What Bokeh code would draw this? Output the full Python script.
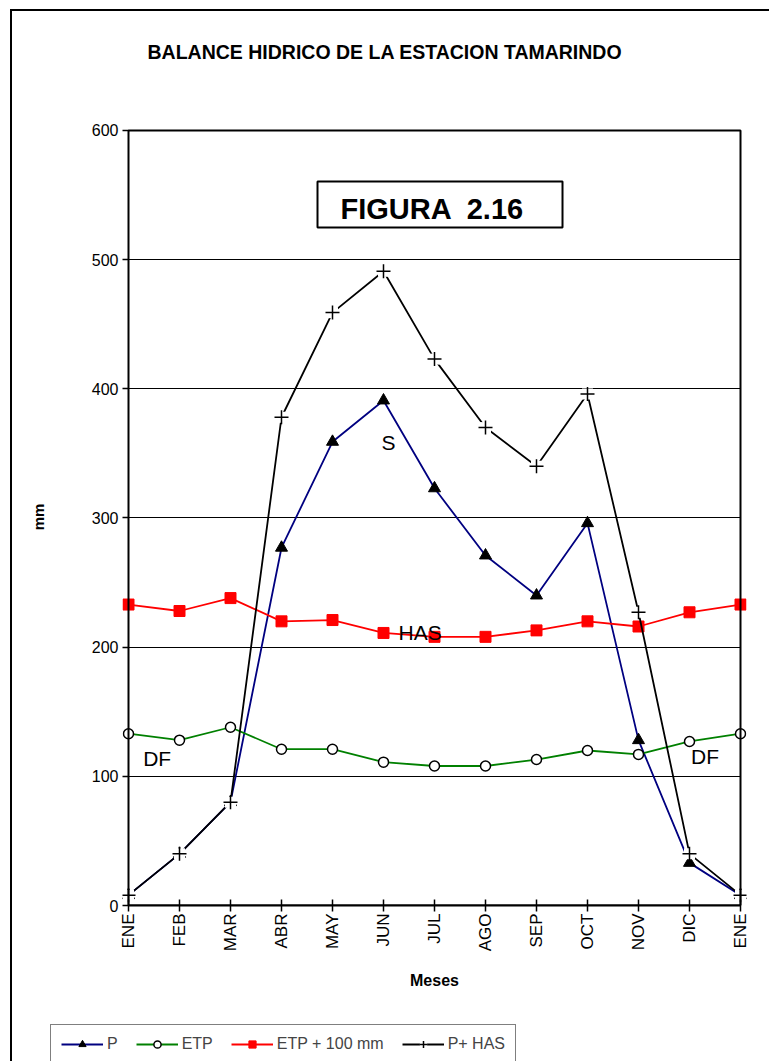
import math
from bokeh.plotting import figure
from bokeh.layouts import column
from bokeh.models import (Label, BoxAnnotation, PolyAnnotation, Legend, LegendItem,
                          FixedTicker, Range1d)
from bokeh.embed import file_html
from bokeh.resources import INLINE

# ---------------- data ----------------
months = ["ENE", "FEB", "MAR", "ABR", "MAY", "JUN", "JUL", "AGO", "SEP", "OCT", "NOV", "DIC", "ENE"]
p_vals = [8, 40, 80, 277, 359, 391, 323, 271, 240, 296, 128, 33, 8]
etp_vals = [133, 128, 138, 121, 121, 111, 108, 108, 113, 120, 117, 127, 133]
etp100_vals = [233, 228, 238, 220, 221, 211, 208, 208, 213, 220, 216, 227, 233]
phas_vals = [8, 40, 80, 378, 459, 491, 423, 370, 340, 396, 227, 40, 8]
y_ticks = [0, 100, 200, 300, 400, 500, 600]
series_names = ["P", "ETP", "ETP + 100 mm", "P+ HAS"]
title_text = "BALANCE HIDRICO DE LA ESTACION TAMARINDO"
x_pos = list(range(len(months)))

FONT = "Liberation Sans"
BLUE, GREEN, RED = "#000080", "#008000", "#ff0000"
LW = 1.8


def strip(height, margin=None):
    f = figure(width=757, height=height, output_backend="svg", toolbar_location=None,
               x_range=Range1d(0, 1), y_range=Range1d(0, 1),
               x_axis_type=None, y_axis_type=None,
               min_border_left=110, min_border_right=23, min_border_top=0, min_border_bottom=0)
    f.outline_line_color = None
    f.xgrid.grid_line_color = None
    f.ygrid.grid_line_color = None
    f.background_fill_alpha = 0
    f.border_fill_alpha = 0
    if margin is not None:
        f.margin = margin
    return f


# ---------------- title strip ----------------
pt = strip(80)
pt.add_layout(Label(x=0.04006, y=0.5, text=title_text, text_font=FONT,
                    text_font_size="19.5px", text_font_style="bold", text_color="black",
                    text_align="left", text_baseline="alphabetic"))

# ---------------- main chart ----------------
xpad = 6 / 51
ypad = 2 / 1.2917
p = figure(width=757, height=929, output_backend="svg", toolbar_location=None,
           x_range=Range1d(-xpad, len(months) - 1 + xpad), y_range=Range1d(0, 600 + ypad),
           min_border_left=110, min_border_right=23, min_border_top=37, min_border_bottom=115)
p.outline_line_color = None
p.background_fill_color = "white"
p.border_fill_alpha = 0

# x axis
xa = p.xaxis[0]
xa.ticker = FixedTicker(ticks=x_pos)
xa.major_label_overrides = {i: m for i, m in enumerate(months)}
xa.bounds = (0, len(months) - 1)
xa.axis_line_width = 2
xa.axis_line_color = "black"
xa.major_tick_in = 6
xa.major_tick_out = 6
xa.major_tick_line_width = 1.5
xa.major_tick_line_color = "black"
xa.minor_tick_line_color = None
xa.major_label_orientation = math.pi / 2
xa.major_label_standoff = 2
xa.major_label_text_font = FONT
xa.major_label_text_font_size = "17px"
xa.major_label_text_color = "black"
xa.axis_label = "Meses"
xa.axis_label_text_font = FONT
xa.axis_label_text_font_size = "16px"
xa.axis_label_text_font_style = "bold"
xa.axis_label_text_color = "black"
xa.axis_label_standoff = 18

# y axis
ya = p.yaxis[0]
ya.ticker = FixedTicker(ticks=y_ticks)
ya.axis_line_color = None
ya.major_tick_in = 6
ya.major_tick_out = 0
ya.major_tick_line_width = 1.5
ya.major_tick_line_color = "black"
ya.minor_tick_line_color = None
ya.major_label_standoff = 4
ya.major_label_text_font = FONT
ya.major_label_text_font_size = "16px"
ya.major_label_text_color = "black"
ya.axis_label = "mm"
ya.axis_label_text_font = FONT
ya.axis_label_text_font_size = "15px"
ya.axis_label_text_font_style = "bold"
ya.axis_label_text_color = "black"
ya.axis_label_standoff = 42

p.xgrid.grid_line_color = None
p.ygrid.ticker = FixedTicker(ticks=y_ticks)
p.ygrid.grid_line_color = "black"
p.ygrid.grid_line_width = 1
p.ygrid.cross_bounds = (0, len(months) - 1)

# plot-area border
p.add_layout(PolyAnnotation(xs=[0, 0, 12, 12], ys=[0, 600, 600, 0],
                            fill_alpha=0, line_color="black", line_alpha=1, line_width=2))


def add_series(fig):
    r = {}
    r["pl"] = fig.line(x_pos, p_vals, line_color=BLUE, line_width=LW)
    r["pm"] = fig.scatter(x_pos, p_vals, marker="triangle", size=12, fill_color="black",
                          line_color="black")
    r["el"] = fig.line(x_pos, etp_vals, line_color=GREEN, line_width=LW)
    r["em"] = fig.scatter(x_pos, etp_vals, marker="circle", size=10, fill_color="white",
                          line_color="black", line_width=1.5)
    r["rl"] = fig.line(x_pos, etp100_vals, line_color=RED, line_width=LW)
    r["rm"] = fig.scatter(x_pos, etp100_vals, marker="square", size=11, fill_color=RED,
                          line_color=RED)
    r["hl"] = fig.line(x_pos, phas_vals, line_color="black", line_width=LW)
    r["hw"] = fig.scatter(x_pos, phas_vals, marker="square", size=11, fill_color="white",
                          line_color=None)
    r["hm"] = fig.scatter(x_pos, phas_vals, marker="cross", size=14, line_color="black",
                          line_width=1.5)
    return r


add_series(p)


def lab(x, y, text, size, bold=False):
    p.add_layout(Label(x=x, y=y, text=text, text_font=FONT, text_font_size=size,
                       text_font_style="bold" if bold else "normal", text_align="left",
                       text_baseline="alphabetic", text_color="black"))


p.add_layout(BoxAnnotation(left=3.706, right=8.51, top=560.5, bottom=524.9,
                           fill_color="white", fill_alpha=1, line_color="black",
                           line_alpha=1, line_width=2))
lab(4.157, 539.0, "FIGURA \u00a02.16", "29px", bold=True)
lab(4.96, 358.5, "S", "21px")
lab(5.294, 211.4, "HAS", "21px")
lab(0.288, 113.6, "DF", "21px")
lab(11.03, 115.4, "DF", "21px")

# ---------------- legend strip ----------------
# same series drawn in a strip whose ranges keep them out of view; only the legend shows
pl = strip(41, margin=(0, 0, 0, -72))
pl.x_range = Range1d(1000, 1001)
pl.y_range = Range1d(1000, 1001)
lr = add_series(pl)

legend = Legend(items=[
    LegendItem(label=series_names[0], renderers=[lr["pl"], lr["pm"]]),
    LegendItem(label=series_names[1], renderers=[lr["el"], lr["em"]]),
    LegendItem(label=series_names[2], renderers=[lr["rl"], lr["rm"]]),
    LegendItem(label=series_names[3], renderers=[lr["hl"], lr["hw"], lr["hm"]]),
], orientation="horizontal", location=(0, -3))
legend.border_line_color = "black"
legend.border_line_width = 1.5
legend.background_fill_color = "white"
legend.background_fill_alpha = 1
legend.label_text_font = FONT
legend.label_text_font_size = "16px"
legend.glyph_width = 42
legend.glyph_height = 18
legend.label_height = 18
legend.label_width = 8
legend.label_standoff = 4
legend.spacing = 18
legend.padding = 10
legend.margin = 0
pl.add_layout(legend)

layout = column(pt, p, pl, spacing=0, margin=(9, 0, 0, 10),
                styles={"border-left": "2px solid black", "border-top": "2px solid black"})

open("out.html", "w").write(file_html(layout, INLINE))
